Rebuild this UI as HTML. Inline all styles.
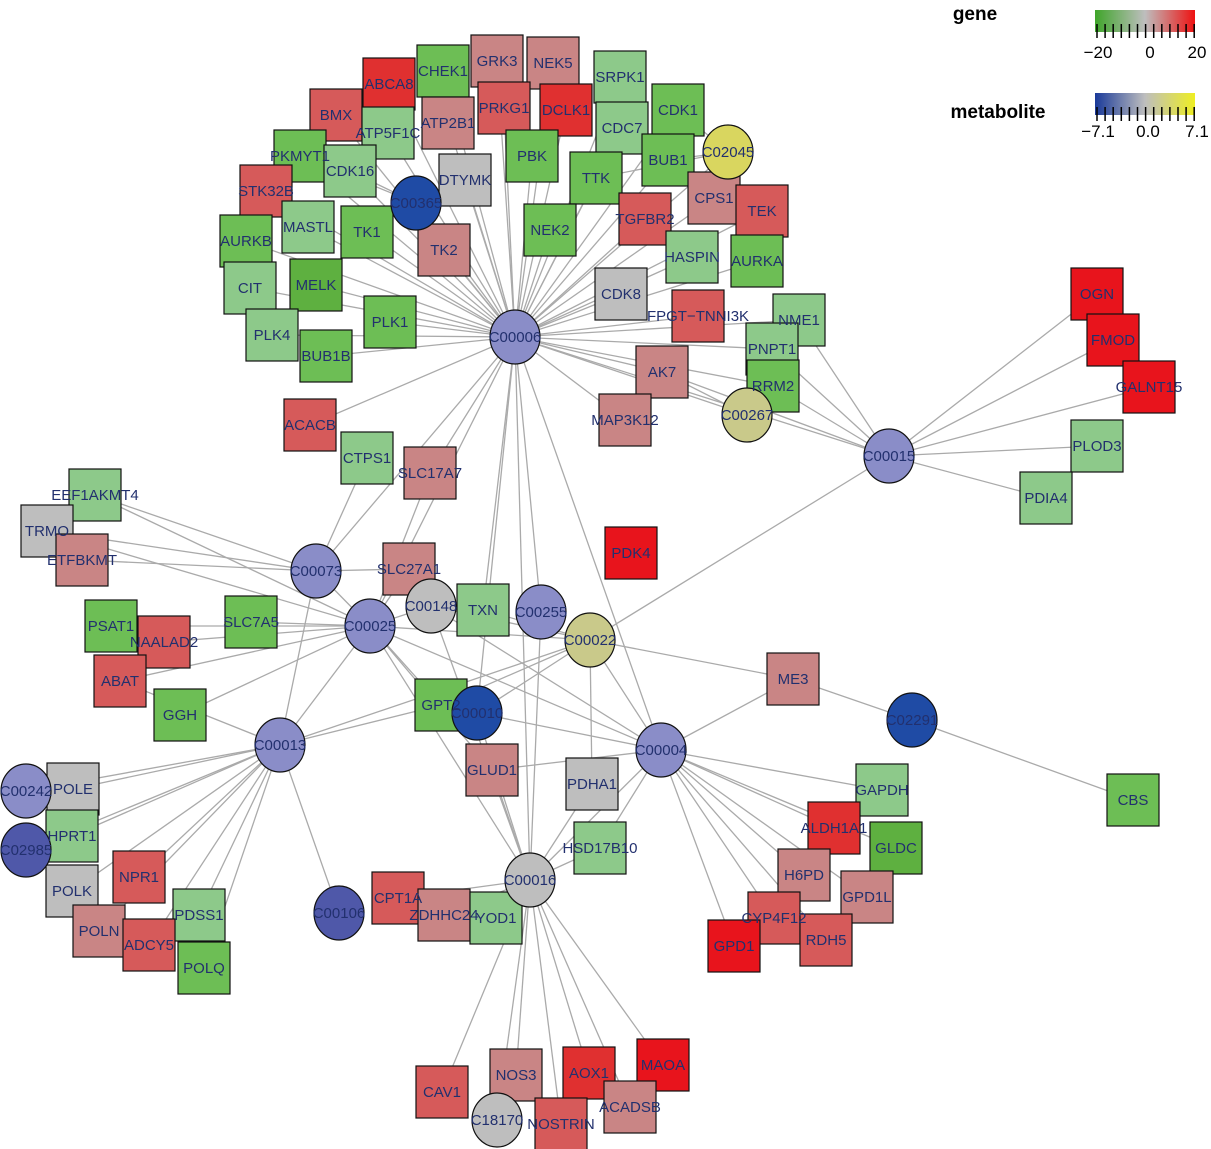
<!DOCTYPE html>
<html><head><meta charset="utf-8">
<style>
html,body{margin:0;padding:0;background:#fff;}
svg{display:block;font-family:"Liberation Sans",sans-serif;}
</style></head>
<body>
<svg id="s" width="1211" height="1149" xmlns="http://www.w3.org/2000/svg">
<g id="edges" stroke="#aaaaaa" stroke-width="1.3" fill="none"></g>
<g id="nodes"></g>
<text x="975" y="20" font-size="19" font-weight="bold" text-anchor="middle">gene</text>
<defs>
<linearGradient id="gg" x1="0" x2="1"><stop offset="0" stop-color="#3fa52a"/><stop offset="0.5" stop-color="#bebebe"/><stop offset="1" stop-color="#ee1111"/></linearGradient>
<linearGradient id="mg" x1="0" x2="1"><stop offset="0" stop-color="#1a3a9a"/><stop offset="0.5" stop-color="#bebebe"/><stop offset="1" stop-color="#eeee22"/></linearGradient>
</defs>
<rect x="1095" y="10" width="100" height="22" fill="url(#gg)"/>
<rect x="1095" y="93" width="100" height="22" fill="url(#mg)"/>
<g id="ticks" stroke="#000" stroke-width="1.5"></g>
<g font-size="17" text-anchor="middle">
<text x="1098" y="58">−20</text><text x="1150" y="58">0</text><text x="1197" y="58">20</text>
<text x="998" y="118" font-size="19" font-weight="bold">metabolite</text>
<text x="1098" y="137">−7.1</text><text x="1148" y="137">0.0</text><text x="1197" y="137">7.1</text>
</g>
</svg>
<script>
var G="#6dbe55",LG="#8dc98a",R="#e8141c",R2="#e03030",MR="#d65a5a",P="#c98585",GR="#bebebe",PU="#8a8dc8",DB="#1f4ba5",MB="#4f58a9",Y="#d9d65f",K="#c9c98a";
var N={
ABCA8:[389,84,R2],CHEK1:[443,71,G],GRK3:[497,61,P],NEK5:[553,63,P],SRPK1:[620,77,LG],BMX:[336,115,MR],ATP5F1C:[388,133,LG],ATP2B1:[448,123,P],PRKG1:[504,108,MR],DCLK1:[566,110,R2],CDK1:[678,110,G],CDC7:[622,128,LG],PKMYT1:[300,156,G],CDK16:[350,171,LG],DTYMK:[465,180,GR],PBK:[532,156,G],BUB1:[668,160,G],TTK:[596,178,G],CPS1:[714,198,P],TEK:[762,211,MR],STK32B:[266,191,MR],MASTL:[308,227,LG],TK1:[367,232,G],TK2:[444,250,P],NEK2:[550,230,G],TGFBR2:[645,219,MR],HASPIN:[692,257,LG],AURKA:[757,261,G],AURKB:[246,241,G],CIT:[250,288,LG],MELK:[316,285,"#5eb040"],CDK8:[621,294,GR],"FPGT−TNNI3K":[698,316,MR],NME1:[799,320,LG],PLK4:[272,335,LG],PLK1:[390,322,G],BUB1B:[326,356,G],PNPT1:[772,349,LG],RRM2:[773,386,G],AK7:[662,372,P],MAP3K12:[625,420,P],ACACB:[310,425,MR],CTPS1:[367,458,LG],SLC17A7:[430,473,P],OGN:[1097,294,R],FMOD:[1113,340,R],GALNT15:[1149,387,R],PLOD3:[1097,446,LG],PDIA4:[1046,498,LG],EEF1AKMT4:[95,495,LG],TRMO:[47,531,GR],ETFBKMT:[82,560,P],SLC27A1:[409,569,P],PDK4:[631,553,R],PSAT1:[111,626,G],NAALAD2:[164,642,MR],SLC7A5:[251,622,G],TXN:[483,610,LG],ME3:[793,679,P],ABAT:[120,681,MR],GGH:[180,715,G],GPT2:[441,705,G],POLE:[73,789,GR],HPRT1:[72,836,LG],GLUD1:[492,770,P],PDHA1:[592,784,GR],GAPDH:[882,790,LG],CBS:[1133,800,G],ALDH1A1:[834,828,R2],GLDC:[896,848,"#5eb040"],HSD17B10:[600,848,LG],NPR1:[139,877,MR],POLK:[72,891,GR],H6PD:[804,875,P],GPD1L:[867,897,P],PDSS1:[199,915,LG],CPT1A:[398,898,MR],ZDHHC24:[444,915,P],YOD1:[496,918,LG],CYP4F12:[774,918,MR],POLN:[99,931,P],ADCY5:[149,945,MR],POLQ:[204,968,G],RDH5:[826,940,MR],GPD1:[734,946,R],NOS3:[516,1075,P],AOX1:[589,1073,R2],MAOA:[663,1065,R],CAV1:[442,1092,MR],ACADSB:[630,1107,P],NOSTRIN:[561,1124,MR]};
var C={C02045:[728,152,Y],C00365:[416,203,DB],C00006:[515,337,PU],C00267:[747,415,K],C00015:[889,456,PU],C00073:[316,571,PU],C00025:[370,626,PU],C00148:[431,606,GR],C00255:[541,612,PU],C00022:[590,640,K],C00010:[477,713,DB],C02291:[912,720,DB],C00013:[280,745,PU],C00004:[661,750,PU],C00242:[26,791,PU],C02985:[26,850,MB],C00016:[530,880,GR],C00106:[339,913,MB],C18170:[497,1120,GR]};
function p(k){return N[k]||C[k];}
var E={
C00006:"ABCA8 CHEK1 GRK3 NEK5 SRPK1 BMX ATP5F1C ATP2B1 PRKG1 DCLK1 CDK1 CDC7 PKMYT1 CDK16 DTYMK PBK BUB1 TTK CPS1 TEK STK32B MASTL TK1 TK2 NEK2 TGFBR2 HASPIN AURKA AURKB CIT MELK CDK8 FPGT−TNNI3K NME1 PLK4 PLK1 BUB1B PNPT1 RRM2 AK7 MAP3K12 ACACB SLC17A7 C00015 C00004 C00016 C00025 C00073 TXN C00010 C02045 C00365 C00267 C00255",
C02045:"CDK1 BUB1 TTK",C00365:"PKMYT1 TK1 TK2 CDK16",C00267:"NME1 PNPT1 RRM2 AK7",
C00015:"OGN FMOD GALNT15 PLOD3 PDIA4 NME1 PNPT1 RRM2 AK7 C00022",
C00073:"EEF1AKMT4 TRMO ETFBKMT SLC27A1 C00025 C00013 CTPS1",
C00025:"EEF1AKMT4 TRMO PSAT1 NAALAD2 SLC7A5 ABAT GGH C00013 C00148 GPT2 GLUD1 C00004 C00016 C00022 SLC17A7 SLC27A1",
C00013:"POLE HPRT1 POLK NPR1 PDSS1 POLN ADCY5 POLQ C00242 C02985 C00106 GPT2 C00022 ABAT",
C00004:"GAPDH ALDH1A1 GLDC H6PD GPD1L CYP4F12 RDH5 GPD1 HSD17B10 ME3 GLUD1 C00022 C00010 C00016 C00148",
C00016:"CPT1A ZDHHC24 YOD1 NOS3 AOX1 MAOA CAV1 ACADSB C18170 NOSTRIN PDHA1 HSD17B10 GLUD1 C00010 C00148 C00255",
C00022:"PDHA1 ME3 C00010 GPT2 TXN C00148",C02291:"CBS ME3"};
var ns="http://www.w3.org/2000/svg",eg=document.getElementById("edges"),ng=document.getElementById("nodes");
function el(t,a,par){var e=document.createElementNS(ns,t);for(var k in a)e.setAttribute(k,a[k]);par.appendChild(e);return e;}
for(var a in E){E[a].split(" ").forEach(function(b){var A=p(a),B=p(b);if(A&&B)el("line",{x1:A[0],y1:A[1],x2:B[0],y2:B[1]},eg);});}
function lab(k,x,y){var t=el("text",{x:x,y:y+5,"font-size":"15","text-anchor":"middle",fill:"#22306e"},ng);t.textContent=k;}
for(var k in N){var v=N[k];el("rect",{x:v[0]-26,y:v[1]-26,width:52,height:52,fill:v[2],stroke:"#111","stroke-width":1.2},ng);}
for(var k in C){var v=C[k];el("ellipse",{cx:v[0],cy:v[1],rx:25,ry:27,fill:v[2],stroke:"#111","stroke-width":1.2},ng);}
for(var k in N)lab(k,N[k][0],N[k][1]);for(var k in C)lab(k,C[k][0],C[k][1]);
var tg=document.getElementById("ticks");
for(var i=0;i<=12;i++){var x=1097+i*8.1;el("line",{x1:x,y1:24,x2:x,y2:38},tg);el("line",{x1:x,y1:107,x2:x,y2:121},tg);}
</script>
</body></html>
